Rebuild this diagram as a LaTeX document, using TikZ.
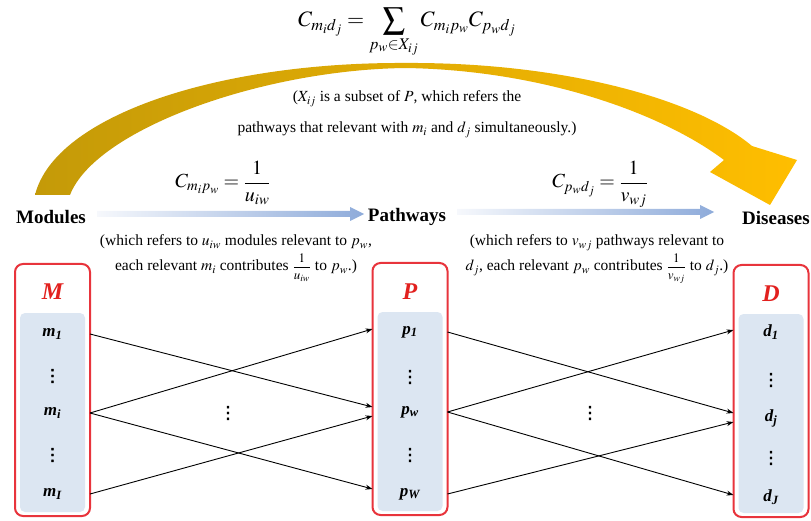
\documentclass[tikz,border=0pt]{standalone}
\usepackage{mathptmx}
\usepackage[no-math]{fontspec}
\setmainfont{Liberation Serif}
\newfontfamily\dvfont[FakeBold=2]{DejaVu Sans}
\usetikzlibrary{arrows.meta,calc}
\definecolor{boxred}{HTML}{E8343C}
\definecolor{labred}{HTML}{E2201E}
\definecolor{inblue}{HTML}{DCE6F2}
\definecolor{arrL}{HTML}{F6F8FC}
\definecolor{arrR}{HTML}{8EABDA}
\definecolor{goldA}{HTML}{C49A08}
\definecolor{goldB}{HTML}{E6B41C}
\definecolor{goldC}{HTML}{FFBE00}
\newcommand{\myfrac}[2]{{\fontsize{13}{15}\selectfont$\displaystyle\frac{#1}{#2}$}}
\newcommand{\mydots}{⋮}
\begin{document}
\begin{tikzpicture}[x=1pt,y=-1pt,
  lab/.style={font=\fontsize{19}{23}\selectfont\bfseries, inner sep=0pt},
  txt/.style={font=\fontsize{15.5}{18}\selectfont, inner sep=0pt},
  frml/.style={font=\fontsize{20}{23}\selectfont, inner sep=0pt},
  bigfrml/.style={font=\fontsize{22}{25}\selectfont, inner sep=0pt},
  item/.style={font=\fontsize{17}{20}\selectfont\bfseries\itshape, minimum width=75pt, inner sep=0pt, outer sep=0pt},
  vdts/.style={font=\fontsize{17}{19}\selectfont\dvfont, inner sep=0pt},
  boxlab/.style={font=\fontsize{24}{26}\selectfont\bfseries\itshape, text=labred, inner sep=0pt},
  conn/.style={line width=0.9pt, -{Stealth[length=7pt,width=5pt]}},
  boxbg/.style={fill=white, minimum width=75pt, minimum height=252pt, inner sep=0pt, outer sep=0pt},
  frameline/.style={draw=boxred, line width=2pt, rounded corners=8pt},
  innerfill/.style={fill=inblue, rounded corners=5pt},
  blueshade/.style={left color=arrL, right color=arrR},
  goldshade/.style={left color=goldA, middle color=goldB, right color=goldC},
]
\useasboundingbox (0,0) rectangle (811,521);

% gold curved arrow
\shade[goldshade]
 (35,195) .. controls (55,115) and (220,62) .. (405,63)
 .. controls (560,62) and (695,98) .. (752,146)
 -- (797,160) -- (770,205) -- (710,172) -- (724,160)
 .. controls (660,112) and (540,70) .. (405,68)
 .. controls (260,70) and (95,130) .. (70,195) -- cycle;

% formulas and texts
\node[bigfrml, anchor=base] (topf) at (407,27) {$\displaystyle C_{m_i d_j} = \sum_{p_w\in X_{ij}} C_{m_i p_w} C_{p_w d_j}$};
\node[txt, anchor=base] (x1) at (407,102) {($X_{ij}$ is a subset of $P$, which refers the};
\node[txt, anchor=base] (x2) at (407,133) {pathways that relevant with $m_i$ and $d_j$ simultaneously.)};

\node[frml, anchor=base] (f1) at (223,188) {$\displaystyle C_{m_i p_w} = \frac{1}{u_{iw}}$};
\node[frml, anchor=base] (f2) at (600,188) {$\displaystyle C_{p_w d_j} = \frac{1}{v_{wj}}$};

\node[lab] (mod) at (51,217) {Modules};
\node[lab] (path) at (407,217) {Pathways};
\node[lab] (dis) at (776,218) {Diseases};

\coordinate (a1s) at (97,214);
\coordinate (a1e) at (364,214);
\coordinate (a2s) at (457,212);
\coordinate (a2e) at (714,212);
\shade[blueshade] ($(a1s)+(0,-3)$) -- ($(a1e)+(-14,-3)$) -- ($(a1e)+(-14,-7)$) -- (a1e) -- ($(a1e)+(-14,7)$) -- ($(a1e)+(-14,3)$) -- ($(a1s)+(0,3)$) -- cycle;
\shade[blueshade] ($(a2s)+(0,-3)$) -- ($(a2e)+(-14,-3)$) -- ($(a2e)+(-14,-7)$) -- (a2e) -- ($(a2e)+(-14,7)$) -- ($(a2e)+(-14,3)$) -- ($(a2s)+(0,3)$) -- cycle;

\node[txt, anchor=base] (l1) at (236,246) {(which refers to $u_{iw}$ modules relevant to $p_w$,};
\node[txt, anchor=base] (l2) at (236,271) {each relevant $m_i$ contributes \myfrac{1}{u_{iw}} to $p_w$.)};
\node[txt, anchor=base] (r1) at (597,246) {(which refers to $v_{wj}$ pathways relevant to};
\node[txt, anchor=base] (r2) at (597,271) {$d_j$, each relevant $p_w$ contributes \myfrac{1}{v_{wj}} to $d_j$.)};

% boxes
\node[boxbg] (Mbox) at (52.5,390) {};
\node[boxbg] (Pbox) at (410,389) {};
\node[boxbg] (Dbox) at (771,391) {};
\foreach \b in {Mbox,Pbox,Dbox}{
  \fill[innerfill] ($(\b.south west)+(5,-4)$) rectangle ($(\b.north east)+(-5,49)$);
  \draw[frameline] (\b.south west) rectangle (\b.north east);
}
\node[boxlab] (Ml) at (52.5,292) {M};
\node[boxlab] (Pl) at (410,292) {P};
\node[boxlab] (Dl) at (771,294) {D};

\node[item] (m1) at (52.5,334) {m\textsubscript{1}};
\node[vdts] (md1) at (52.5,376) {\mydots};
\node[item] (mi) at (52.5,413) {m\textsubscript{i}};
\node[vdts] (md2) at (52.5,455) {\mydots};
\node[item] (mI) at (52.5,494) {m\textsubscript{I}};

\node[item] (p1) at (410,332) {p\textsubscript{1}};
\node[vdts] (pd1) at (410,377) {\mydots};
\node[item] (pw) at (410,412) {p\textsubscript{w}};
\node[vdts] (pd2) at (410,455) {\mydots};
\node[item] (pW) at (410,494) {p\textsubscript{W}};

\node[item] (d1) at (771,332) {d\textsubscript{1}};
\node[vdts] (dd1) at (771,380) {\mydots};
\node[item] (dj) at (771,418) {d\textsubscript{j}};
\node[vdts] (dd2) at (771,458) {\mydots};
\node[item] (dJ) at (771,497) {d\textsubscript{J}};

\node[vdts] (cd1) at (228,413) {\mydots};
\node[vdts] (cd2) at (590,413) {\mydots};

% connectors
\draw[conn] (m1.east) -- ([yshift=5pt]pw.west);
\draw[conn] (mi.east) -- ([yshift=3pt]p1.west);
\draw[conn] (mi.east) -- ([yshift=5pt]pW.west);
\draw[conn] (mI.east) -- ([yshift=-4pt]pw.west);

\draw[conn] (p1.east) -- ([yshift=5pt]dj.west);
\draw[conn] (pw.east) -- ([yshift=2pt]d1.west);
\draw[conn] (pw.east) -- ([yshift=2pt]dJ.west);
\draw[conn] (pW.east) -- ([yshift=-4pt]dj.west);
\end{tikzpicture}
\end{document}
